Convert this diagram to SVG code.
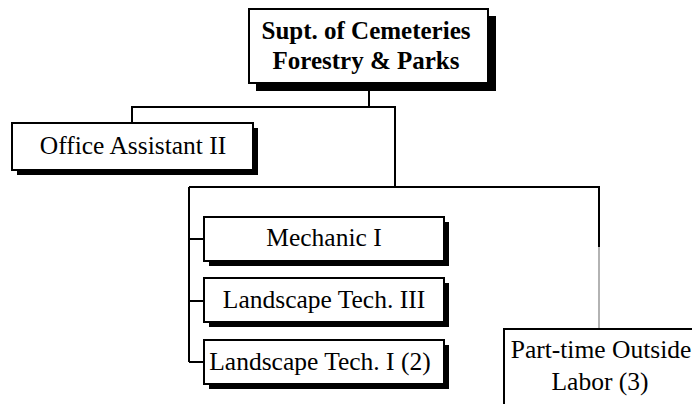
<svg xmlns="http://www.w3.org/2000/svg" width="692" height="404" viewBox="0 0 692 404">
  <style>
    .box { fill: #fff; stroke: #000; stroke-width: 2; }
    .shadow { fill: #000; }
    .line { fill: none; stroke: #000; stroke-width: 2; }
    .grey { fill: none; stroke: #9a9a9a; stroke-width: 1.5; }
    text { font-family: "Liberation Serif", "Times New Roman", serif; font-size: 25.5px; fill: #000; text-anchor: middle; }
    .bold { font-weight: bold; font-size: 25px; }
  </style>

  <!-- connectors -->
  <g id="connectors">
    <path class="line" d="M369 90 V107 M132 123 V107 H395 V187 M189 187 H599 V247 M189 187 V362 M189 239 H204 M189 301 H204 M189 362 H204"/>
    <path class="grey" d="M599 247 V329"/>
  </g>

  <!-- head of department -->
  <g id="supt">
    <rect class="shadow" x="256" y="16" width="240" height="75"/>
    <rect class="box" x="249" y="9" width="239" height="74"/>
    <text class="bold" x="366" y="39">Supt. of Cemeteries</text>
    <text class="bold" x="366" y="69">Forestry &amp; Parks</text>
  </g>

  <g id="office-assistant">
    <rect class="shadow" x="17" y="128" width="241" height="47"/>
    <rect class="box" x="12" y="123" width="241" height="47"/>
    <text x="133" y="154">Office Assistant II</text>
  </g>

  <g id="mechanic">
    <rect class="shadow" x="209" y="222" width="240" height="44"/>
    <rect class="box" x="204" y="217" width="240" height="44"/>
    <text x="324" y="246">Mechanic I</text>
  </g>

  <g id="landscape-tech-3">
    <rect class="shadow" x="209" y="283" width="240" height="44"/>
    <rect class="box" x="204" y="278" width="240" height="44"/>
    <text x="324" y="308">Landscape Tech. III</text>
  </g>

  <g id="landscape-tech-1">
    <rect class="shadow" x="209" y="345" width="240" height="44"/>
    <rect class="box" x="204" y="340" width="240" height="44"/>
    <text x="320" y="370">Landscape Tech. I (2)</text>
  </g>

  <g id="part-time">
    <path class="line" d="M504 410 V329 H700"/>
    <text x="601" y="358">Part-time Outside</text>
    <text x="600" y="390">Labor (3)</text>
  </g>
</svg>
